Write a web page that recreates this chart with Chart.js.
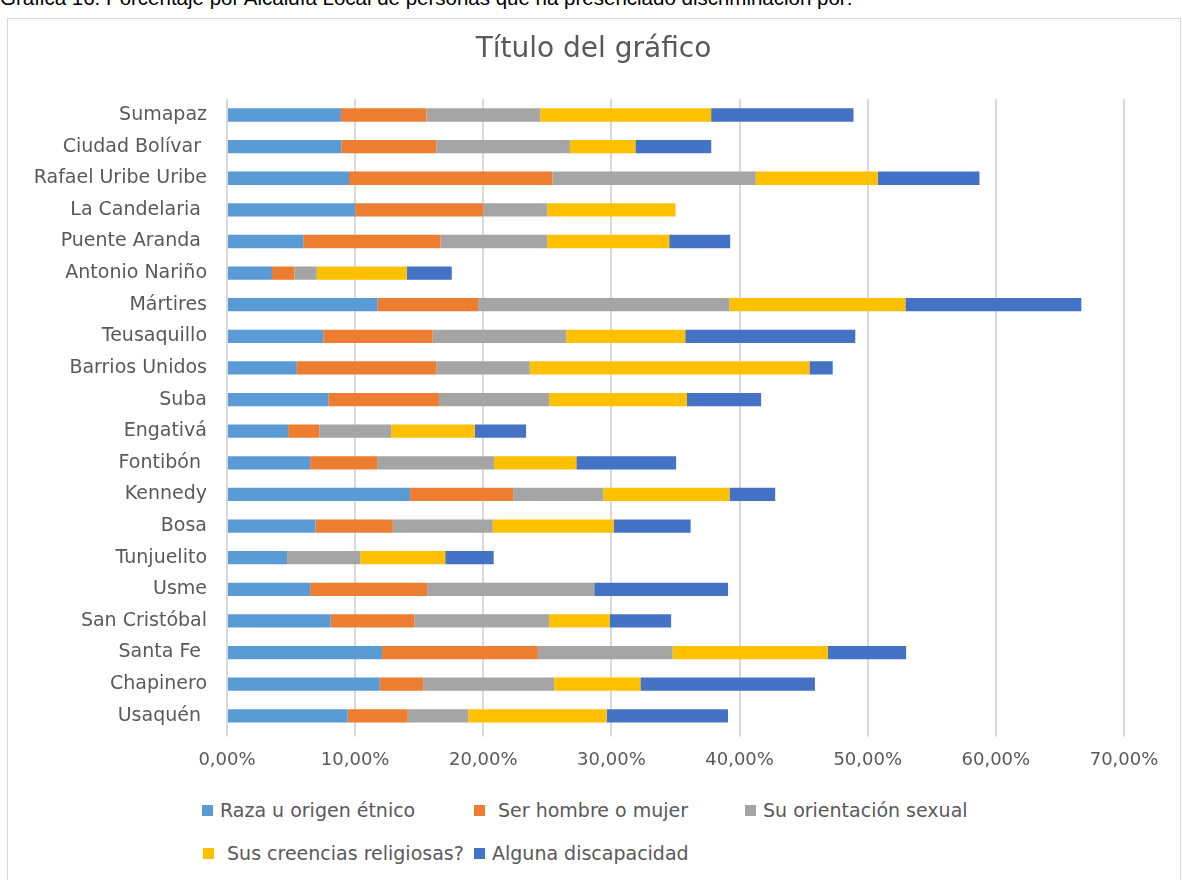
<!DOCTYPE html>
<html>
<head>
<meta charset="utf-8">
<script src="https://cdn.jsdelivr.net/npm/chart.js@4/dist/chart.umd.min.js"></script>
<style>
  html, body { margin: 0; padding: 0; background: #fff; }
  body { width: 1182px; height: 880px; position: relative; overflow: hidden; }
  #caption { position: absolute; left: 0; top: -14px; font-family: "Liberation Sans", Arial, sans-serif; font-size: 20.5px; color: #000; white-space: nowrap; }
  #frame { position: absolute; left: 7px; top: 18px; width: 1172px; height: 880px; border: 1px solid #d9d9d9; background: #fff; }
  #c { position: absolute; left: 0; top: 0; }
  .lg { position: absolute; font-family: "DejaVu Sans", sans-serif; font-size: 19px; color: #595959; white-space: pre; line-height: 22px; display: flex; align-items: center; }
  .lg .bx { display: inline-block; width: 11px; height: 11px; margin-right: 7px; }
</style>
</head>
<body>
<div id="caption">Gráfica 16. Porcentaje por Alcaldía Local de personas que ha presenciado discriminación por:</div>
<div id="frame">
  <canvas id="c" width="1171" height="780"></canvas>
  <div id="legend"></div>
</div>
<script>
const categories = ["Sumapaz", "Ciudad Bolívar ", "Rafael Uribe Uribe", "La Candelaria ", "Puente Aranda ", "Antonio Nariño", "Mártires", "Teusaquillo", "Barrios Unidos", "Suba", "Engativá", "Fontibón ", "Kennedy", "Bosa", "Tunjuelito", "Usme", "San Cristóbal", "Santa Fe ", "Chapinero", "Usaquén "];

const raza         = [8.89, 8.92, 9.52, 10.00, 5.95, 3.51, 11.76, 7.51, 5.45, 7.90, 4.77, 6.49, 14.29, 6.91, 4.69, 6.49, 8.09, 12.10, 11.92, 9.42];
const sexo         = [6.67, 7.41, 15.87, 10.00, 10.71, 1.75, 7.84, 8.53, 10.91, 8.64, 2.45, 5.22, 8.04, 6.03, 0, 9.13, 6.52, 12.16, 3.39, 4.69];
const orientacion  = [8.89, 10.43, 15.87, 5.00, 8.33, 1.75, 19.61, 10.43, 7.27, 8.60, 5.59, 9.13, 7.04, 7.80, 5.72, 13.04, 10.53, 10.51, 10.22, 4.72];
const religion     = [13.33, 5.11, 9.52, 10.00, 9.52, 7.02, 13.73, 9.29, 21.82, 10.75, 6.52, 6.42, 9.84, 9.44, 6.62, 0, 4.72, 12.12, 6.73, 10.80];
const discapacidad = [11.11, 5.92, 7.94, 0, 4.76, 3.51, 13.73, 13.27, 1.82, 5.79, 4.01, 7.79, 3.57, 6.00, 3.78, 10.44, 4.80, 6.11, 13.62, 9.47];

const seriesNames  = ["Raza u origen étnico", " Ser hombre o mujer", "Su orientación sexual", " Sus creencias religiosas?", "Alguna discapacidad"];
const seriesValues = [raza, sexo, orientacion, religion, discapacidad];
const seriesColors = ["#5B9BD5", "#ED7D31", "#A5A5A5", "#FFC000", "#4472C4"];
const xTicks = [0, 10, 20, 30, 40, 50, 60, 70];

const FONT = '"DejaVu Sans", sans-serif';
const TEXT = '#595959';

new Chart(document.getElementById('c'), {
  type: 'bar',
  data: {
    labels: categories,
    datasets: seriesNames.map((n, i) => ({
      label: n.trim(),
      data: seriesValues[i],
      backgroundColor: seriesColors[i],
      borderWidth: 0,
      barPercentage: 0.42,
      categoryPercentage: 1
    }))
  },
  options: {
    indexAxis: 'y',
    responsive: false,
    animation: false,
    layout: { padding: { left: 0, right: 0, top: 0, bottom: 27.4 } },
    plugins: {
      legend: { display: false },
      tooltip: { enabled: false },
      title: {
        display: true,
        text: 'Título del gráfico',
        color: TEXT,
        font: { family: FONT, size: 28, weight: 'normal' },
        padding: { top: 14.4, bottom: 32.2 }
      }
    },
    scales: {
      x: {
        stacked: true,
        min: 0,
        max: 70,
        afterBuildTicks: s => { s.ticks = xTicks.map(v => ({ value: v })); },
        afterFit: s => { s.height = 40; },
        grid: { color: '#d9d9d9', lineWidth: 2, drawTicks: true, tickLength: 5, tickColor: '#d9d9d9' },
        border: { display: false },
        ticks: {
          color: TEXT,
          padding: 12.6,
          font: { family: FONT, size: 18 },
          callback: v => v.toFixed(2).replace('.', ',') + '%'
        }
      },
      y: {
        stacked: true,
        afterFit: s => { s.width = 219; },
        grid: { display: false, drawTicks: false },
        border: { display: false },
        ticks: {
          color: TEXT,
          padding: 20,
          font: { family: FONT, size: 19 }
        }
      },
      yRight: {
        type: 'category',
        position: 'right',
        afterFit: s => { s.width = 55; },
        grid: { display: false, drawTicks: false },
        border: { display: false },
        ticks: { display: false }
      }
    }
  }
});

// legend (HTML), built from series names/colors
const legendPos = [[194, 780], [466, 780], [737, 780], [195, 823], [466, 823]];
const lg = document.getElementById('legend');
seriesNames.forEach((n, i) => {
  const d = document.createElement('div');
  d.className = 'lg';
  d.style.left = legendPos[i][0] + 'px';
  d.style.top = legendPos[i][1] + 'px';
  const b = document.createElement('span');
  b.className = 'bx';
  b.style.background = seriesColors[i];
  d.appendChild(b);
  d.appendChild(document.createTextNode(n));
  lg.appendChild(d);
});
</script>
</body>
</html>
